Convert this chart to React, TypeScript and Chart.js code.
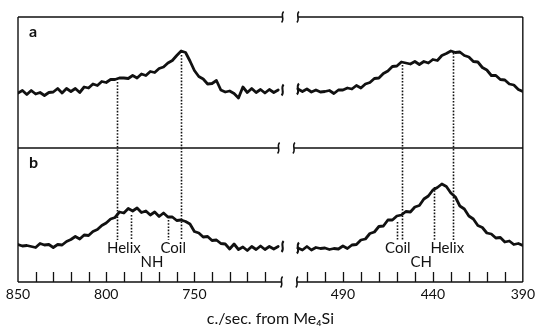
import React, { useEffect, useRef } from 'react';
import { Chart, registerables } from 'chart.js';

Chart.register(...registerables);

// ---- data (c./sec. from Me4Si, arbitrary intensity units) ----
const leftX = [850, 847.5, 845, 842.5, 840, 837.5, 835, 832.5, 830, 827.5, 825, 822.5, 820, 817.5, 815, 812.5, 810, 807.5, 805, 802.5, 800, 797.5, 795, 792.5, 790, 787.5, 785, 782.5, 780, 777.5, 775, 772.5, 770, 767.5, 765, 762.5, 760, 757.5, 755, 752.5, 750, 747.5, 745, 742.5, 740, 737.5, 735, 732.5, 730, 727.5, 725, 722.5, 720, 717.5, 715, 712.5, 710, 707.5, 705, 702.5];
const rightX = [515, 512.5, 510, 507.5, 505, 502.5, 500, 497.5, 495, 492.5, 490, 487.5, 485, 482.5, 480, 477.5, 475, 472.5, 470, 467.5, 465, 462.5, 460, 457.5, 455, 452.5, 450, 447.5, 445, 442.5, 440, 437.5, 435, 432.5, 430, 427.5, 425, 422.5, 420, 417.5, 415, 412.5, 410, 407.5, 405, 402.5, 400, 397.5, 395, 392.5, 390];

// spectrum a
const aLeft = [55, 57.5, 53.5, 57.5, 54, 55.5, 52.5, 55.5, 56, 59.5, 55, 59.5, 56.5, 59.5, 55.5, 61, 60, 64, 62.5, 66.5, 65.5, 68.5, 68.5, 70, 70, 69.5, 72.5, 70, 74, 72.5, 76.5, 75.5, 79.5, 81, 85, 87.5, 92.5, 97, 95.5, 87, 77.5, 71.5, 69, 64, 64.5, 67.5, 58, 56, 57, 54.5, 50, 61, 55.5, 59.5, 55.5, 58.5, 55, 58.5, 55.5, 58];
const aRight = [59, 56.5, 59, 56, 58, 56, 56.5, 57.5, 54.5, 58, 58, 60, 59, 62.5, 60, 64, 65.5, 69.5, 70, 74.5, 77, 81.5, 82, 86, 85, 84, 86.5, 83.5, 86.5, 85, 88.5, 87.5, 92.5, 94.5, 97, 95.5, 96, 92.5, 91, 86.5, 86, 80.5, 78, 72.5, 72.5, 68.5, 68, 64, 63, 58.5, 56.5];
// spectrum b
const bLeft = [37.5, 36, 36.5, 35.5, 34.5, 38.5, 37, 37.5, 34.5, 37.5, 37, 40.5, 42.5, 45.5, 43, 47, 46.5, 50.5, 52.5, 56.5, 59, 63, 64.5, 70, 69, 73.5, 71, 74, 69.5, 71, 67, 70, 65.5, 69, 65, 65, 61.5, 62, 60.5, 58, 50.5, 49, 45, 45.5, 41.5, 42, 38.5, 38, 33, 38, 32.5, 35, 31.5, 35.5, 32.5, 36, 32.5, 35.5, 33, 35.5];
const bRight = [34, 32, 35.5, 32, 34.5, 33.5, 34, 32.5, 33.5, 33, 36, 33.5, 37, 37.5, 42, 43, 48.5, 50, 55.5, 56, 62, 62, 66, 67, 70.5, 70, 75, 76.5, 83, 86, 92, 94.5, 98, 95.5, 89, 85, 76, 73, 66, 63, 56.5, 54.5, 49, 48, 44, 44.5, 40, 41, 37.5, 38.5, 36.5];

// dotted marker lines (long: from spectrum a down into b; short: within b)
const longMarks = [794, 757.5, 457, 429];
const longTopA = [66, 93, 83, 95];
const shortMarks = [786, 765, 460, 439.5];
const shortTopB = [67, 62, 60, 95];
const markBottomB = 42;

// annotation labels in panel b
const noteTexts = ['Helix', 'Coil', 'NH', 'Coil', 'Helix', 'CH'];
const noteX = [790, 762, 774, 459.5, 432, 446.5];
const noteY = [34, 34, 20, 34, 34, 20];

// axis ticks
const labelTicks = [850, 800, 750, 490, 440, 390];
const tickMarks = [840, 830, 820, 810, 800, 790, 780, 770, 760, 750, 740, 730, 720, 710, 510, 500, 490, 480, 470, 460, 450, 440, 430, 420, 410, 400];
const panelNames = ['a', 'b'];

// broken axis: 850..700 | gap | 515..390
const LEFT_MAX = 850;
const LEFT_MIN = 700;
const RIGHT_MAX = 515;
const RIGHT_MIN = 390;
const GAP = 8.7;
const RIGHT_STRETCH = 1.02;
const toU = (v: number) =>
  v >= 600 ? LEFT_MAX - v : (LEFT_MAX - LEFT_MIN) + GAP + (RIGHT_MAX - v) * RIGHT_STRETCH;

const INK = '#111';
const FONT = 'Lato, "Open Sans", sans-serif';

function squiggle(ctx: CanvasRenderingContext2D, x: number, y: number, h: number) {
  ctx.beginPath();
  ctx.moveTo(x + 1, y - h / 2);
  ctx.bezierCurveTo(x - 2.5, y - h / 6, x + 2.5, y + h / 6, x - 1, y + h / 2);
  ctx.stroke();
}

const decorPlugin = {
  id: 'decor',
  afterDatasetsDraw(chart: any) {
    const { ctx, chartArea, scales } = chart;
    const xs = scales.x;
    const ya = scales.yA;
    const yb = scales.yB;
    const xL = xs.getPixelForValue(toU(LEFT_MIN));
    const xR = xs.getPixelForValue(toU(RIGHT_MAX));
    const left = chartArea.left;
    const right = chartArea.right;
    const top = ya.top;
    const mid = yb.top;
    const bottom = yb.bottom;
    ctx.save();
    ctx.strokeStyle = INK;
    ctx.fillStyle = INK;
    ctx.lineCap = 'butt';

    // frame (the middle rule's break sits a little further left, as printed)
    const rows: [number, number][] = [[top, 0], [mid, -4], [bottom, -1]];
    ctx.lineWidth = 1.4;
    ctx.beginPath();
    ctx.moveTo(left, top); ctx.lineTo(left, bottom);
    ctx.moveTo(right, top); ctx.lineTo(right, bottom);
    for (const [y, dx] of rows) {
      ctx.moveTo(left, y); ctx.lineTo(xL + dx, y);
      ctx.moveTo(xR + dx, y); ctx.lineTo(right, y);
    }
    ctx.stroke();
    ctx.lineWidth = 1.5;
    for (const [y, dx] of rows) {
      squiggle(ctx, xL + dx, y, 11);
      squiggle(ctx, xR + dx, y, 11);
    }
    // data-end squiggles
    ctx.lineWidth = 2;
    squiggle(ctx, xL, ya.getPixelForValue(aLeft[aLeft.length - 1]), 11);
    squiggle(ctx, xL, yb.getPixelForValue(bLeft[bLeft.length - 1]), 11);
    squiggle(ctx, xR, ya.getPixelForValue(aRight[0]), 11);
    squiggle(ctx, xR, yb.getPixelForValue(bRight[0]), 11);

    // inward tick marks
    ctx.lineWidth = 1.3;
    ctx.beginPath();
    for (const t of tickMarks) {
      const px = Math.round(xs.getPixelForValue(toU(t))) + 0.5;
      ctx.moveTo(px, bottom);
      ctx.lineTo(px, bottom - 10);
    }
    ctx.stroke();

    // dotted marker lines
    ctx.lineWidth = 1.6;
    ctx.setLineDash([1.6, 1.6]);
    ctx.beginPath();
    longMarks.forEach((m, i) => {
      const px = Math.round(xs.getPixelForValue(toU(m))) + 0.5;
      ctx.moveTo(px, ya.getPixelForValue(longTopA[i]));
      ctx.lineTo(px, yb.getPixelForValue(markBottomB));
    });
    shortMarks.forEach((m, i) => {
      const px = Math.round(xs.getPixelForValue(toU(m))) + 0.5;
      ctx.moveTo(px, yb.getPixelForValue(shortTopB[i]));
      ctx.lineTo(px, yb.getPixelForValue(markBottomB));
    });
    ctx.stroke();
    ctx.setLineDash([]);

    // texts
    ctx.textAlign = 'center';
    ctx.textBaseline = 'middle';
    ctx.font = `15px ${FONT}`;
    noteTexts.forEach((t, i) => {
      ctx.fillText(t, xs.getPixelForValue(toU(noteX[i])), yb.getPixelForValue(noteY[i]));
    });
    ctx.font = `bold 16px ${FONT}`;
    ctx.textAlign = 'left';
    ctx.fillText(panelNames[0], left + 11, top + 15);
    ctx.fillText(panelNames[1], left + 11, mid + 15);
    ctx.restore();
  },
};

export default function App() {
  const ref = useRef<HTMLCanvasElement | null>(null);
  useEffect(() => {
    const canvas = ref.current;
    if (!canvas) return;
    const line = (xv: number[], yv: number[], axis: string) => ({
      data: xv.map((v, i) => ({ x: toU(v), y: yv[i] })),
      yAxisID: axis,
      borderColor: INK,
      borderWidth: 2.8,
      pointRadius: 0,
      tension: 0,
      borderJoinStyle: 'round' as const,
      borderCapStyle: 'round' as const,
      fill: false,
    });
    const chart = new Chart(canvas, {
      type: 'line',
      data: {
        datasets: [
          line(leftX, aLeft, 'yA'),
          line(rightX, aRight, 'yA'),
          line(leftX, bLeft, 'yB'),
          line(rightX, bRight, 'yB'),
        ],
      },
      options: {
        animation: false,
        responsive: false,
        events: [],
        layout: { padding: { left: 18, right: 11, top: 17, bottom: 0 } },
        plugins: { legend: { display: false }, tooltip: { enabled: false } },
        scales: {
          x: {
            type: 'linear',
            min: toU(LEFT_MAX),
            max: toU(RIGHT_MIN),
            grid: { display: false, drawTicks: false },
            border: { display: false },
            afterBuildTicks: (s: any) => {
              s.ticks = labelTicks.map((v) => ({ value: toU(v) }));
            },
            afterFit: (s: any) => {
              s.height = 47;
            },
            ticks: {
              autoSkip: false,
              maxRotation: 0,
              padding: 4,
              color: INK,
              font: { family: FONT, size: 14 },
              callback: (_v: any, i: number) => String(labelTicks[i]),
            },
            title: {
              display: true,
              text: 'c./sec. from Me₄Si',
              color: INK,
              font: { family: FONT, size: 16 },
              padding: { top: 0, bottom: 1 },
            },
          },
          yB: {
            type: 'linear',
            position: 'left',
            stack: 'panels',
            stackWeight: 134,
            min: 0,
            max: 134,
            display: false,
          },
          yA: {
            type: 'linear',
            position: 'left',
            stack: 'panels',
            stackWeight: 131,
            min: 0,
            max: 131,
            display: false,
          },
        },
      },
      plugins: [decorPlugin],
    });
    return () => chart.destroy();
  }, []);
  return (
    <div style={{ position: 'fixed', left: 0, top: 0, width: 539, height: 329, background: '#fff' }}>
      <canvas ref={ref} width={539} height={329} style={{ display: 'block' }} />
    </div>
  );
}
